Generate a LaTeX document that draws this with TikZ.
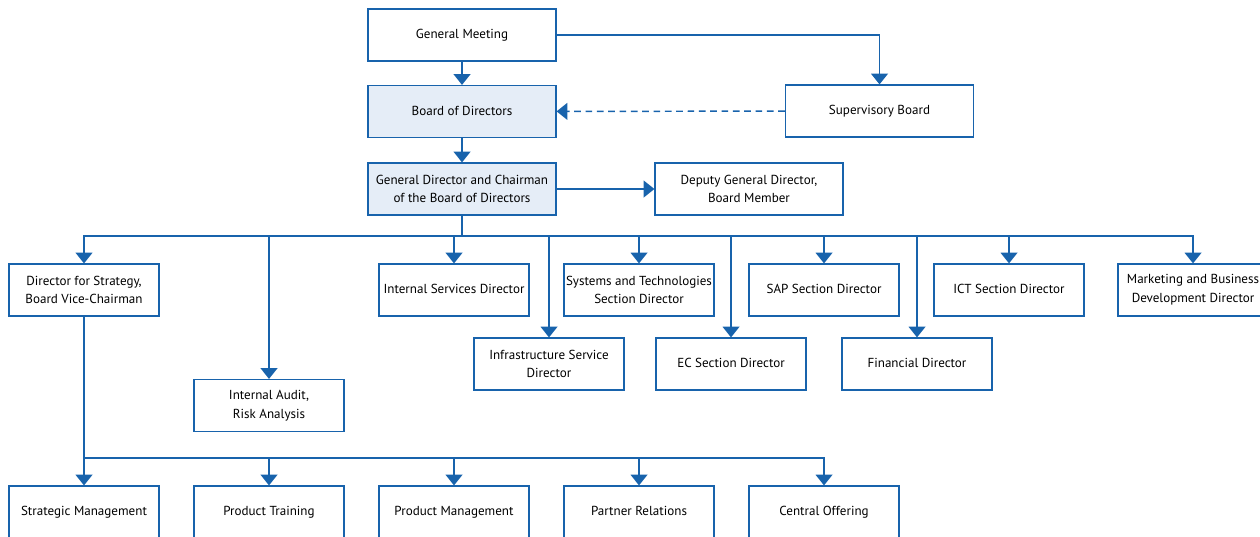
\documentclass[tikz,border=0pt]{standalone}
\usepackage{fontspec}
\setmainfont{PT Sans}
\usetikzlibrary{arrows.meta}
\definecolor{orgblue}{RGB}{24,99,172}
\definecolor{orgfill}{RGB}{229,237,247}
\tikzset{
    unit/.style={draw=orgblue, line width=0.9pt, minimum width=112.5pt, minimum height=39pt,
                 inner sep=1pt, align=center, font=\fontsize{9.8}{14}\selectfont},
    wide/.style={unit, minimum width=141pt},
    one/.style={text height=7pt, text depth=1.4pt},
    lead/.style={fill=orgfill},
    wire/.style={draw=orgblue, line width=1.1pt},
    link/.style={wire, -{Triangle[width=12.5pt,length=8pt]}}}

\begin{document}
\begin{tikzpicture}[x=0.75pt, y=-0.75pt]

                    \useasboundingbox (0,0) rectangle (1260,536);

                    \node[wide, one] (gm) at (462,35) {General Meeting};
                    \node[wide, one, lead] (bod) at (462,111.5) {Board of Directors};
                    \node[wide, one] (sup) at (879.5,111) {Supervisory Board};
                    \node[wide, lead] (gd) at (462,189) {General Director and Chairman\\of the Board of Directors};
                    \node[wide] (dep) at (749,189) {Deputy General Director,\\Board Member};

                    \node[unit] (strat) at (84,290) {Director for Strategy,\\Board Vice-Chairman};
                    \node[unit, one] (isd) at (454,290) {Internal Services Director};
                    \node[unit] (sys) at (639,290) {Systems and Technologies\\Section Director};
                    \node[unit, one] (sap) at (824,290) {SAP Section Director};
                    \node[unit, one] (ict) at (1009,290) {ICT Section Director};
                    \node[unit] (mkt) at (1193,290) {Marketing and Business\\Development Director};

                    \node[unit] (inf) at (549,364) {Infrastructure Service\\Director};
                    \node[unit, one] (ec) at (731,364) {EC Section Director};
                    \node[unit, one] (fin) at (917,364) {Financial Director};
                    \node[unit] (audit) at (269,405.5) {Internal Audit,\\Risk Analysis};

                    \node[unit, one] (sm) at (84,512) {Strategic Management};
                    \node[unit, one] (pt) at (269,512) {Product Training};
                    \node[unit, one] (pm) at (454,512) {Product Management};
                    \node[unit, one] (pr) at (639,512) {Partner Relations};
                    \node[unit, one] (co) at (824,512) {Central Offering};

                    \draw[link] (gm) -- (bod);
                    \draw[link] (bod) -- (gd);
                    \draw[link] (gm.east) -| (sup.north);
                    \draw[link, dash pattern=on 5pt off 3.5pt] (sup) -- (bod);
                    \draw[link] (gd) -- (dep);

                    \coordinate (hub) at (462,236);
                    \draw[wire] (gd.south) -- (hub);
                    \foreach \n in {strat,audit,isd,inf,sys,ec,sap,fin,ict,mkt}
                        \draw[link] (hub) -| (\n.north);

                    \coordinate (sub) at (84,458);
                    \draw[wire] (strat.south) -- (sub);
                    \foreach \n in {sm,pt,pm,pr,co}
                        \draw[link] (sub) -| (\n.north);

\end{tikzpicture}
\end{document}
